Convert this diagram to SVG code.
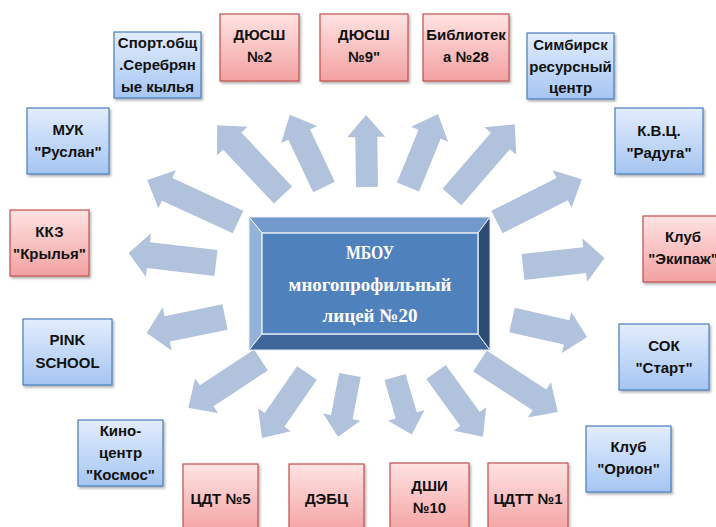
<svg xmlns="http://www.w3.org/2000/svg" width="716" height="527" viewBox="0 0 716 527">
<defs>
<linearGradient id="gBlue" x1="0" y1="0" x2="0" y2="1">
<stop offset="0" stop-color="#e3edfd"/>
<stop offset="1" stop-color="#a5c5f2"/>
</linearGradient>
<linearGradient id="gRed" x1="0" y1="0" x2="0" y2="1">
<stop offset="0" stop-color="#ffe3e3"/>
<stop offset="1" stop-color="#f3a1a1"/>
</linearGradient>
<filter id="sh" x="-10%" y="-10%" width="130%" height="130%">
<feDropShadow dx="1.5" dy="2" stdDeviation="1.2" flood-color="#000" flood-opacity="0.3"/>
</filter>
<style>
.blue{fill:url(#gBlue);stroke:#4a7ebb;stroke-width:1.2;filter:url(#sh)}
.red{fill:url(#gRed);stroke:#c0504d;stroke-width:1.2;filter:url(#sh)}
.t{font-family:"Liberation Sans",Arial,sans-serif;font-weight:bold;font-size:15px;fill:#111;text-anchor:middle}
.arr{fill:#b1c2dd}
.ct{font-family:"Liberation Serif","Times New Roman",serif;font-weight:bold;font-size:19px;fill:#ffffff;text-anchor:middle}
</style>
</defs>

<g id="connectors">
<path class="arr" transform="translate(238,222) rotate(-155.2)" d="M0,-12.5 H78 V-21 L100,0 L78,21 V12.5 H0 Z"/>
<path class="arr" transform="translate(283,195) rotate(-133.3)" d="M0,-12.5 H74 V-21 L96,0 L74,21 V12.5 H0 Z"/>
<path class="arr" transform="translate(324,187) rotate(-115.3)" d="M0,-12 H58 V-20 L80,0 L58,20 V12 H0 Z"/>
<path class="arr" transform="translate(367,187) rotate(-90.8)" d="M0,-11 H50 V-19 L72,0 L50,19 V11 H0 Z"/>
<path class="arr" transform="translate(408,187) rotate(-67.7)" d="M0,-12 H57 V-20 L79,0 L57,20 V12 H0 Z"/>
<path class="arr" transform="translate(452,197) rotate(-49.2)" d="M0,-12.5 H74 V-21 L96,0 L74,21 V12.5 H0 Z"/>
<path class="arr" transform="translate(497,222) rotate(-26.8)" d="M0,-12.5 H73 V-21 L95,0 L73,21 V12.5 H0 Z"/>
<path class="arr" transform="translate(523,267) rotate(-6.3)" d="M0,-13 H62 V-22 L82,0 L62,22 V13 H0 Z"/>
<path class="arr" transform="translate(512,320) rotate(12.8)" d="M0,-12.5 H56 V-21 L77,0 L56,21 V12.5 H0 Z"/>
<path class="arr" transform="translate(480,361) rotate(33.2)" d="M0,-12.5 H71 V-21 L93,0 L71,21 V12.5 H0 Z"/>
<path class="arr" transform="translate(436,372) rotate(54.1)" d="M0,-12 H58 V-20 L80,0 L58,20 V12 H0 Z"/>
<path class="arr" transform="translate(395,377) rotate(73.7)" d="M0,-11 H40 V-19 L60,0 L40,19 V11 H0 Z"/>
<path class="arr" transform="translate(350,375) rotate(101)" d="M0,-11 H43 V-19 L63,0 L43,19 V11 H0 Z"/>
<path class="arr" transform="translate(307,373) rotate(124.7)" d="M0,-12 H57 V-20 L79,0 L57,20 V12 H0 Z"/>
<path class="arr" transform="translate(261,360) rotate(146.7)" d="M0,-12.5 H65 V-21 L87,0 L65,21 V12.5 H0 Z"/>
<path class="arr" transform="translate(225,317) rotate(168.4)" d="M0,-13 H59 V-22 L80,0 L59,22 V13 H0 Z"/>
<path class="arr" transform="translate(216,263) rotate(-173.4)" d="M0,-13 H68 V-22 L88,0 L68,22 V13 H0 Z"/>
</g>

<g id="center">
<polygon points="249,217 490,217 478,233 262,233" fill="#7199cc" stroke="#e8eef7" stroke-width="1"/>
<polygon points="249,217 262,233 262,334 249,350" fill="#94b2d7" stroke="#e8eef7" stroke-width="1"/>
<polygon points="249,350 262,334 478,334 490,350" fill="#3f6699" stroke="#e8eef7" stroke-width="1"/>
<polygon points="490,217 490,350 478,334 478,233" fill="#2d4b73" stroke="#e8eef7" stroke-width="1"/>
<rect x="262" y="233" width="216" height="101" fill="#4f81bd" stroke="#dce6f2" stroke-width="1.5"/>
<text class="ct" x="370" y="259" textLength="48" lengthAdjust="spacingAndGlyphs">МБОУ</text>
<text class="ct" x="370" y="291" textLength="163" lengthAdjust="spacingAndGlyphs">многопрофильный</text>
<text class="ct" x="370" y="322" textLength="95" lengthAdjust="spacingAndGlyphs">лицей №20</text>
</g>

<g id="sport"><rect class="blue" x="114" y="32" width="87" height="66"/>
<text class="t" x="157.5" y="48">Спорт.общ</text><text class="t" x="157.5" y="70">.Серебрян</text><text class="t" x="157.5" y="92">ые кылья</text></g>
<g id="dyussh2"><rect class="red" x="220" y="14" width="79" height="67"/>
<text class="t" x="259.5" y="40">ДЮСШ</text><text class="t" x="259.5" y="62">№2</text></g>
<g id="dyussh9"><rect class="red" x="320" y="14" width="88" height="67"/>
<text class="t" x="364" y="40">ДЮСШ</text><text class="t" x="364" y="62">№9"</text></g>
<g id="biblio"><rect class="red" x="423" y="14" width="86" height="67"/>
<text class="t" x="466" y="40">Библиотек</text><text class="t" x="466" y="62">а №28</text></g>
<g id="simbirsk"><rect class="blue" x="527" y="33" width="87" height="66"/>
<text class="t" x="570.5" y="50">Симбирск</text><text class="t" x="570.5" y="72">ресурсный</text><text class="t" x="570.5" y="93">центр</text></g>
<g id="kvc"><rect class="blue" x="615" y="108" width="88" height="66"/>
<text class="t" x="659" y="136">К.В.Ц.</text><text class="t" x="659" y="158">"Радуга"</text></g>
<g id="muk"><rect class="blue" x="27" y="108" width="82" height="66"/>
<text class="t" x="68" y="135">МУК</text><text class="t" x="68" y="157">"Руслан"</text></g>
<g id="kkz"><rect class="red" x="10" y="210" width="79" height="66"/>
<text class="t" x="49.5" y="237">ККЗ</text><text class="t" x="49.5" y="259">"Крылья"</text></g>
<g id="pink"><rect class="blue" x="23" y="319" width="89" height="66"/>
<text class="t" x="67.5" y="345">PINK</text><text class="t" x="67.5" y="368">SCHOOL</text></g>
<g id="kino"><rect class="blue" x="78" y="420" width="85" height="66"/>
<text class="t" x="120.5" y="436">Кино-</text><text class="t" x="120.5" y="458">центр</text><text class="t" x="120.5" y="480">"Космос"</text></g>
<g id="cdt5"><rect class="red" x="183" y="464" width="75" height="70"/>
<text class="t" x="220.5" y="504">ЦДТ №5</text></g>
<g id="debc"><rect class="red" x="289" y="464" width="75" height="70"/>
<text class="t" x="326.5" y="504">ДЭБЦ</text></g>
<g id="dshi"><rect class="red" x="390" y="463" width="79" height="70"/>
<text class="t" x="429.5" y="491">ДШИ</text><text class="t" x="429.5" y="513">№10</text></g>
<g id="cdtt1"><rect class="red" x="488" y="463" width="80" height="70"/>
<text class="t" x="528" y="504">ЦДТТ №1</text></g>
<g id="ekipazh"><rect class="red" x="643" y="216" width="85" height="66"/>
<text class="t" x="683" y="242">Клуб</text><text class="t" x="683" y="264">"Экипаж"</text></g>
<g id="sok"><rect class="blue" x="619" y="324" width="90" height="66"/>
<text class="t" x="664" y="351">СОК</text><text class="t" x="664" y="373">"Старт"</text></g>
<g id="orion"><rect class="blue" x="586" y="426" width="85" height="66"/>
<text class="t" x="628.5" y="452">Клуб</text><text class="t" x="628.5" y="474">"Орион"</text></g>
</svg>
